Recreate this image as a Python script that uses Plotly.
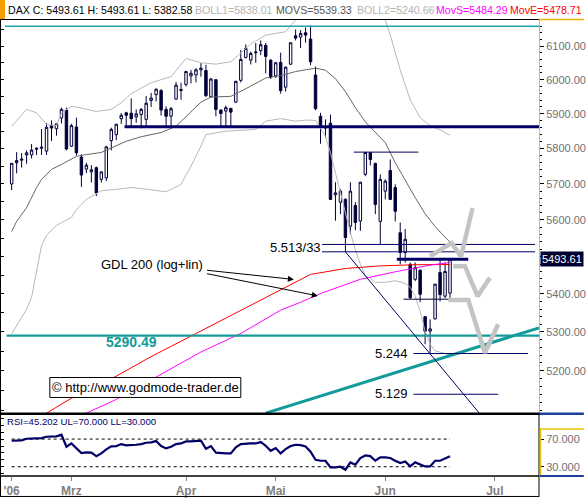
import math
import plotly.graph_objects as go

# ---------------- DATA ----------------
# trading days shown (Feb 13 2006 .. Jun 20 2006), x = trading-day index
feb_days = [13, 14, 15, 16, 17, 20, 21, 22, 23, 24, 27, 28]
mar_days = [1, 2, 3, 6, 7, 8, 9, 10, 13, 14, 15, 16, 17, 20, 21, 22, 23, 24, 27, 28, 29, 30, 31]
apr_days = [3, 4, 5, 6, 7, 10, 11, 12, 13, 18, 19, 20, 21, 24, 25, 26, 27, 28]
may_days = [2, 3, 4, 5, 8, 9, 10, 11, 12, 15, 16, 17, 18, 19, 22, 23, 24, 25, 26, 29, 30, 31]
jun_days = [1, 2, 5, 6, 7, 8, 9, 12, 13, 14, 15, 16, 19, 20]
dates = ([f"2006-02-{d:02d}" for d in feb_days] + [f"2006-03-{d:02d}" for d in mar_days] +
         [f"2006-04-{d:02d}" for d in apr_days] + [f"2006-05-{d:02d}" for d in may_days] +
         [f"2006-06-{d:02d}" for d in jun_days])
day_index = list(range(len(dates)))

opens = [5700, 5760, 5767, 5782, 5782, 5798, 5801, 5793, 5867, 5857,
         5888, 5911, 5807, 5862, 5776, 5742, 5734, 5746, 5713, 5717,
         5823, 5840, 5886, 5903, 5902, 5891, 5898, 5884, 5939, 5956,
         5968, 5913, 5893, 5943, 5968, 5986, 6011, 6014, 6029, 6027,
         5950, 6000, 5911, 5908, 5916, 5934, 5998, 6066, 6058, 6080,
         6086, 6102, 6058, 6011, 6051, 5978, 6046, 6131, 6127, 6140,
         6121, 6014, 5893, 5863, 5873, 5670, 5649, 5657, 5583, 5640,
         5597, 5727, 5788, 5758, 5596, 5680, 5738, 5690, 5565, 5511,
         5479, 5439, 5463, 5340, 5302, 5334, 5457, 5394, 5402]
highs = [5758, 5790, 5787, 5795, 5813, 5803, 5856, 5873, 5881, 5873,
         5918, 5918, 5871, 5889, 5784, 5760, 5753, 5749, 5735, 5808,
         5860, 5871, 5902, 5906, 5945, 5913, 5917, 5952, 5961, 5974,
         5972, 5922, 5920, 5993, 5991, 6026, 6029, 6034, 6049, 6044,
         6005, 6002, 5913, 5924, 5917, 5997, 6088, 6105, 6083, 6109,
         6117, 6109, 6060, 6053, 6080, 6039, 6110, 6150, 6148, 6156,
         6162, 6039, 5903, 5884, 5898, 5705, 5685, 5660, 5705, 5649,
         5706, 5790, 5790, 5760, 5727, 5713, 5769, 5699, 5593, 5575,
         5484, 5484, 5466, 5341, 5333, 5426, 5495, 5484, 5493.61]
lows = [5683, 5730, 5746, 5757, 5772, 5782, 5782, 5782, 5822, 5837,
        5872, 5795, 5805, 5780, 5692, 5730, 5704, 5666, 5704, 5708,
        5795, 5824, 5871, 5865, 5864, 5874, 5858, 5866, 5920, 5936,
        5895, 5866, 5866, 5941, 5941, 5980, 5989, 5992, 6009, 5949,
        5947, 5893, 5862, 5864, 5862, 5932, 5992, 6063, 6045, 6050,
        6073, 6019, 6002, 6005, 5959, 5965, 6043, 6117, 6094, 6110,
        6043, 5911, 5814, 5831, 5655, 5598, 5616, 5513, 5560, 5572,
        5570, 5722, 5752, 5616, 5533, 5657, 5655, 5596, 5479, 5484,
        5386, 5434, 5378, 5268, 5244, 5333, 5380, 5389, 5382.58]
closes = [5758, 5766, 5770, 5788, 5796, 5801, 5804, 5861, 5859, 5871,
          5913, 5799, 5866, 5788, 5725, 5753, 5740, 5675, 5734, 5805,
          5855, 5870, 5896, 5896, 5886, 5900, 5913, 5931, 5946, 5972,
          5911, 5893, 5915, 5984, 5971, 6024, 6019, 6029, 6034, 5953,
          6002, 5913, 5901, 5918, 5905, 5995, 6060, 6093, 6078, 6082,
          6104, 6069, 6007, 6050, 5968, 6037, 6110, 6124, 6138, 6133,
          6053, 5915, 5868, 5859, 5657, 5675, 5680, 5552, 5680, 5593,
          5705, 5789, 5769, 5643, 5713, 5708, 5657, 5624, 5511, 5547,
          5390, 5470, 5399, 5302, 5308, 5426, 5398, 5460, 5493.61]

boll_up_x = [0, 2, 3, 5, 7, 9, 10, 12, 14, 17, 20, 22, 24, 28, 32, 35, 38, 41, 44, 48, 51, 55,
             57, 60, 65, 70, 74, 75, 76, 78, 80, 82, 84, 86, 88]
boll_up_y = [5864, 5897, 5913, 5903, 5869, 5866, 5903, 5922, 5917, 5907, 5913, 5932, 5959, 5991,
             6009, 6063, 6050, 6046, 6053, 6106, 6133, 6143, 6179, 6260, 6320, 6320, 6230, 6179,
             6133, 6029, 5941, 5889, 5866, 5854, 5838.01]
boll_mid_x = [0, 1, 3, 5, 6, 8, 10, 13, 15, 18, 20, 23, 26, 28, 30, 33, 35, 38, 40, 44, 48, 51,
              54, 57, 59, 61, 63, 65, 67, 69, 71, 73, 75, 77, 79, 81, 83, 85, 87, 88]
boll_mid_y = [5568, 5596, 5634, 5690, 5713, 5741, 5755, 5778, 5783, 5789, 5802, 5821, 5834, 5839,
              5846, 5864, 5892, 5934, 5949, 5951, 5981, 6005, 6012, 6024, 6029, 6034, 6028, 6003,
              5965, 5918, 5877, 5848, 5817, 5760, 5710, 5662, 5617, 5582, 5553, 5539.33]
boll_low_x = [0, 2, 3, 4, 5, 6, 7, 9, 12, 13, 15, 18, 21, 24, 28, 31, 34, 36, 38, 39, 43, 49, 51,
              54, 57, 59, 61, 63, 64, 65, 66, 67, 68, 69, 70, 71, 73, 75, 77, 79, 80, 81, 82, 83,
              84, 85, 87, 88]
boll_low_y = [5295, 5338, 5359, 5391, 5463, 5530, 5558, 5585, 5607, 5629, 5657, 5681, 5685, 5690,
              5684, 5678, 5699, 5750, 5807, 5840, 5850, 5855, 5879, 5886, 5879, 5882, 5881, 5835,
              5788, 5731, 5676, 5620, 5565, 5519, 5479, 5450, 5431, 5431, 5435, 5428, 5418, 5394,
              5354, 5302, 5268, 5251, 5245, 5240.66]
mov_e_x = [6, 7, 12, 21, 28, 37, 40, 50, 57, 60, 67, 74, 81, 88]
mov_e_y = [5081, 5092.5, 5130, 5186, 5236, 5296, 5316, 5384, 5431, 5452, 5468, 5475, 5478, 5478.71]
mov_s_x = [14, 15, 21, 29, 38, 46, 54, 58, 62, 70, 77, 84, 88]
mov_s_y = [5084, 5092.5, 5127, 5184, 5248, 5296, 5357, 5378, 5401, 5439, 5459, 5477, 5484.29]

rsi = [67.6, 67.6, 68.1, 70.5, 71.0, 71.0, 71.4, 73.4, 73.4, 73.9,
       76.3, 58.9, 63.7, 56.5, 49.8, 50.7, 50.3, 45.4, 49.3, 55.1,
       59.4, 59.9, 62.8, 60.9, 60.9, 61.8, 62.8, 64.7, 65.2, 67.1,
       59.9, 56.5, 58.9, 62.8, 63.7, 66.6, 66.6, 66.6, 67.6, 56.0,
       59.9, 50.3, 49.3, 49.3, 49.3, 58.0, 62.8, 63.7, 63.7, 63.7,
       65.7, 60.4, 53.1, 57.0, 49.3, 55.6, 59.9, 61.8, 61.3, 59.4,
       51.7, 40.1, 38.7, 38.7, 29.1, 29.1, 30.0, 25.7, 36.3, 32.9,
       42.6, 46.4, 45.4, 38.7, 43.5, 43.5, 42.6, 38.7, 35.3, 37.7,
       30.5, 36.3, 32.9, 30.5, 30.5, 38.7, 38.7, 42.1, 45.202]
rsi_upper, rsi_lower = 70, 30

# hand-drawn levels and trend lines  (x: trading-day index, y: index points)
cyan_top_x, cyan_top_y = [-1.34, 105.86], [6160, 6160]
sup_5863_x, sup_5863_y = [22.66, 105.86], [5863, 5863]
lvl_5290_x, lvl_5290_y = [-1.0, 105.86], [5290.49, 5290.49]
uptrend_x, uptrend_y = [51.0, 105.86], [5092.5, 5310.7]
downtrend_x, downtrend_y = [67.0, 94.32], [5513, 5085.8]
lvl_5533_x, lvl_5533_y = [62.3, 105.06], [5533, 5533]
lvl_5513_x, lvl_5513_y = [62.3, 105.06], [5513, 5513]
lvl_5790_x, lvl_5790_y = [68.66, 81.66], [5790, 5790]
lvl_5493_x, lvl_5493_y = [77.32, 91.66], [5493, 5493]
lvl_5386_x, lvl_5386_y = [78.66, 91.66], [5386, 5386]
lvl_5244_x, lvl_5244_y = [80.66, 103.66], [5244, 5244]
lvl_5129_x, lvl_5129_y = [80.66, 97.66], [5140, 5140]
zig_a_x, zig_a_y = [84.0, 88.32, 90.2, 92.52], [5501, 5537, 5500, 5633]
zig_b_x, zig_b_y = [88.66, 91.0, 93.52, 96.0], [5474, 5474, 5394, 5443]
zig_c_x, zig_c_y = [87.66, 91.66, 95.0, 97.66], [5384, 5384, 5246, 5320]

price_ticks = [5200, 5300, 5400, 5600, 5700, 5800, 5900, 6000, 6100]
month_tick_idx = [0, 12, 35, 53, 75, 97]
month_tick_txt = ["'06", "Mrz", "Apr", "Mai", "Jun", "Jul"]

# ---------------- LAYOUT HELPERS ----------------
W, H = 586, 498
ML, MR, MT, MB = 0, 45, 20, 21
PW, PH = W - ML - MR, H - MT - MB
FONT = "Liberation Sans, Arial, sans-serif"
NAVY = "#00003a"
LINE_NAVY = "#000066"
TEAL = "#139a9a"


def pxx(x):
    return x / PW


def pyy(y):
    return (H - MB - y) / PH


def text_px(text, x, y, xanchor="left", size=11, color="black", bold=False, **kw):
    return dict(text=text, x=pxx(x), y=pyy(y), xref="paper", yref="paper", xanchor=xanchor,
                yanchor="middle", showarrow=False,
                font=dict(family=FONT, size=size, color=color, weight="bold" if bold else "normal"), **kw)


def line_px(x0, y0, x1, y1, color="black", width=1, dash="solid"):
    return dict(type="line", xref="paper", yref="paper", x0=pxx(x0), x1=pxx(x1), y0=pyy(y0), y1=pyy(y1),
                line=dict(color=color, width=width, dash=dash), layer="above")


fig = go.Figure()


def add_line(x, y, color, width=1, dash="solid", yaxis="y", xaxis="x"):
    fig.add_trace(go.Scatter(x=x, y=y, mode="lines", line=dict(color=color, width=width, dash=dash),
                             xaxis=xaxis, yaxis=yaxis, hoverinfo="skip", showlegend=False))


# bands and averages
add_line(boll_up_x, boll_up_y, "#b8b8b8")
add_line(boll_low_x, boll_low_y, "#b8b8b8")
add_line(boll_mid_x, boll_mid_y, "#666666")
add_line(mov_e_x, mov_e_y, "#ff0000")
add_line(mov_s_x, mov_s_y, "#ff00ff")

# candles
fig.add_trace(go.Candlestick(
    x=day_index, open=opens, high=highs, low=lows, close=closes,
    increasing=dict(line=dict(color=NAVY, width=1), fillcolor="white"),
    decreasing=dict(line=dict(color=NAVY, width=1), fillcolor=NAVY),
    whiskerwidth=0, showlegend=False, hoverinfo="skip", xaxis="x", yaxis="y"))

# drawn lines
add_line(cyan_top_x, cyan_top_y, "#1aa6ae", 1.5)
add_line(sup_5863_x, sup_5863_y, LINE_NAVY, 3)
add_line(lvl_5290_x, lvl_5290_y, TEAL, 2.2)
add_line(uptrend_x, uptrend_y, TEAL, 3)
add_line(downtrend_x, downtrend_y, LINE_NAVY, 1)
add_line(lvl_5533_x, lvl_5533_y, LINE_NAVY, 1)
add_line(lvl_5513_x, lvl_5513_y, LINE_NAVY, 1)
add_line(lvl_5790_x, lvl_5790_y, LINE_NAVY, 1)
add_line(lvl_5493_x, lvl_5493_y, LINE_NAVY, 3)
add_line(lvl_5386_x, lvl_5386_y, "#000033", 1)
add_line(lvl_5244_x, lvl_5244_y, LINE_NAVY, 1)
add_line(lvl_5129_x, lvl_5129_y, LINE_NAVY, 1)
for zx, zy in [(zig_a_x, zig_a_y), (zig_b_x, zig_b_y), (zig_c_x, zig_c_y)]:
    add_line(zx, zy, "#c4c4c4", 4.5)

# RSI
add_line([0, 88], [rsi_upper, rsi_upper], "black", 1, "3px,3px", yaxis="y2", xaxis="x2")
add_line([0, 88], [rsi_lower, rsi_lower], "black", 1, "3px,3px", yaxis="y2", xaxis="x2")
add_line(day_index, rsi, LINE_NAVY, 2.2, yaxis="y2", xaxis="x2")

# dummy traces for overlay tick axes
for ya in ["y3", "y5"]:
    fig.add_trace(go.Scatter(x=[0], y=[5500], mode="markers", marker=dict(opacity=0),
                             xaxis="x", yaxis=ya, hoverinfo="skip", showlegend=False))
fig.add_trace(go.Scatter(x=[0], y=[50], mode="markers", marker=dict(opacity=0),
                         xaxis="x2", yaxis="y4", hoverinfo="skip", showlegend=False))

prange = [math.log10(5092.5), math.log10(6178.7)]
dom_price = [pyy(414), 1]
dom_rsi = [0, pyy(415)]
axfont = dict(family=FONT, size=11, color="#707070")

annotations = [
    text_px("DAX C: 5493.61 H: 5493.61 L: 5382.58", 6.5, 9.5, size=10.6),
    text_px("BOLL1=5838.01", 194, 9.5, size=10.6, color="#b4b4b4"),
    text_px("MOVS=5539.33", 275.5, 9.5, size=10.6, color="#555555"),
    text_px("BOLL2=5240.66", 356, 9.5, size=10.6, color="#b4b4b4"),
    text_px("MovS=5484.29", 435.5, 9.5, size=10.6, color="#ff00ff"),
    text_px("MovE=5478.71", 510, 9.5, size=10.6, color="#ff0000"),
    text_px("5.513/33", 324, 248, xanchor="right", size=13),
    text_px("5.244", 412, 354, xanchor="right", size=13),
    text_px("5.129", 412, 394, xanchor="right", size=13),
    text_px("GDL 200 (log+lin)", 99, 265, size=13),
    text_px("5290.49", 132, 343, xanchor="center", size=14, color=TEAL, bold=True),
    text_px("\u00a9 http://www.godmode-trader.de", 146, 388.5, xanchor="center", size=13),
    text_px("RSI=45.202 UL=70.000 LL=30.000", 5.5, 422, size=9.6, color=LINE_NAVY),
    dict(text="5493.61", x=pxx(542.5), y=math.log10(5493.61), xref="paper", yref="y",
         xanchor="left", yanchor="middle", showarrow=False, bgcolor="#000030", borderpad=1,
         font=dict(family=FONT, size=11, color="white")),
    dict(text="", x=pxx(295), y=pyy(280), xref="paper", yref="paper", ax=-88.3, ay=-9.3,
         showarrow=True, arrowhead=2, arrowsize=1.2, arrowwidth=1, arrowcolor="black"),
    dict(text="", x=pxx(319), y=pyy(296.5), xref="paper", yref="paper", ax=-112.3, ay=-22.5,
         showarrow=True, arrowhead=2, arrowsize=1.2, arrowwidth=1, arrowcolor="black"),
]

shapes = [
    dict(type="rect", xref="paper", yref="paper", x0=pxx(0), x1=pxx(5), y0=pyy(0), y1=pyy(19.5),
         fillcolor="#f5a000", line=dict(width=0), layer="above"),
    line_px(0, 19.5, 541, 19.5, "black", 1),
    line_px(541, 19.5, 586, 19.5, "#f0b000", 1.5),
    line_px(0.5, 19.5, 0.5, 498, "black", 1),
    line_px(541.5, 20, 541.5, 414, "#e8c000", 1),
    line_px(0, 414.5, 541, 414.5, "black", 2.5),
    line_px(541, 414.5, 586, 414.5, "#1f3fa0", 2.5),
    line_px(541, 414, 541, 498, "black", 1),
    line_px(542.5, 430, 542.5, 477, "#e8c000", 1.5),
    line_px(542, 430, 586, 430, "#e8c000", 1.5),
    line_px(542, 477, 586, 477, "#1f3fa0", 2),
    line_px(0, 477, 541, 477, "black", 1.5),
    line_px(0, 497.5, 541, 497.5, "black", 1),
    dict(type="rect", xref="paper", yref="paper", x0=pxx(50), x1=pxx(241.7), y0=pyy(378.3),
         y1=pyy(398.3), fillcolor="white", line=dict(color="black", width=1), layer="above"),
]

fig.update_layout(
    width=W, height=H, margin=dict(l=ML, r=MR, t=MT, b=MB),
    paper_bgcolor="white", plot_bgcolor="white", showlegend=False, hovermode=False,
    xaxis=dict(domain=[0, 1], anchor="y", range=[-2.34, 105.86], showticklabels=False, ticks="",
               showgrid=False, zeroline=False, showline=False, rangeslider=dict(visible=False)),
    xaxis2=dict(domain=[0, 1], anchor="y2", matches="x", tickvals=month_tick_idx,
                ticktext=month_tick_txt, ticks="outside", ticklen=4, tickcolor="#808080",
                tickfont=dict(family=FONT, size=12, color="#808080", weight="bold"),
                showgrid=False, zeroline=False, showline=False),
    yaxis=dict(domain=dom_price, anchor="x", type="log", range=prange, side="right",
               tickvals=price_ticks, ticktext=[f"{v:.2f}" for v in price_ticks],
               ticks="outside", ticklen=4, tickcolor="black", tickfont=axfont,
               showgrid=False, zeroline=False, showline=False),
    yaxis3=dict(overlaying="y", anchor="x", side="left", type="log", range=prange,
                tickvals=list(range(5100, 6200, 50)), ticks="inside", ticklen=4, tickcolor="black",
                showticklabels=False, showgrid=False, zeroline=False, showline=False),
    yaxis5=dict(overlaying="y", anchor="x", side="right", type="log", range=prange,
                tickvals=list(range(5100, 6180, 20)), ticks="outside", ticklen=2, tickcolor="black",
                showticklabels=False, showgrid=False, zeroline=False, showline=False),
    yaxis2=dict(domain=dom_rsi, anchor="x2", range=[16.6, 106.1], side="right",
                tickvals=[30, 70], ticktext=["30.000", "70.000"], ticks="outside", ticklen=4,
                tickcolor="black", tickfont=axfont, showgrid=False, zeroline=False, showline=False),
    yaxis4=dict(overlaying="y2", anchor="x2", side="left", range=[16.6, 106.1],
                tickvals=list(range(20, 110, 10)), ticks="inside", ticklen=4, tickcolor="black",
                showticklabels=False, showgrid=False, zeroline=False, showline=False),
    annotations=annotations, shapes=shapes,
)

fig.write_html("out.html", config={"displayModeBar": False},
               post_script="document.body.style.margin='0px';document.body.style.overflow='hidden';")
